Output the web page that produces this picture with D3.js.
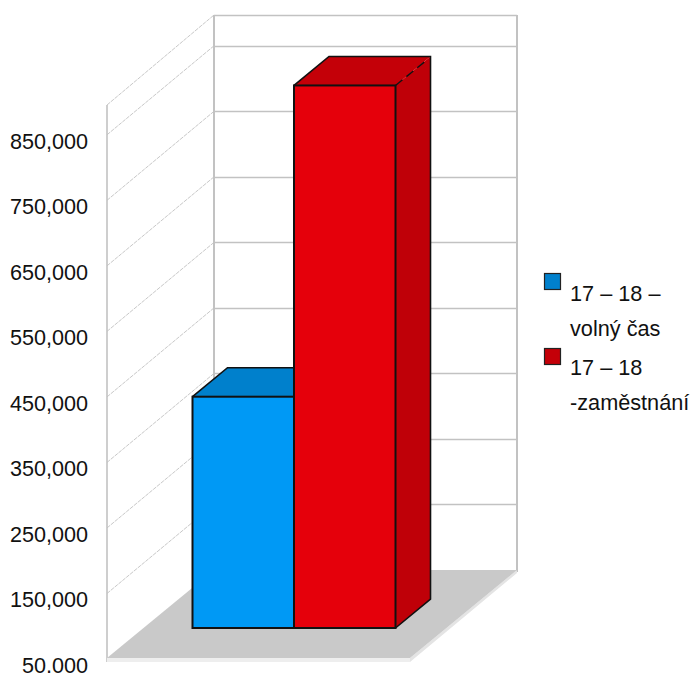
<!DOCTYPE html>
<html><head><meta charset="utf-8">
<script src="https://cdn.jsdelivr.net/npm/d3@7"></script>
<style>html,body{margin:0;padding:0;background:#fff}svg{display:block}text{font-family:"Liberation Sans",Arial,sans-serif;fill:#111}</style>
</head><body><div id="c"></div>
<script>
const categories = ["17 – 18 – volný čas", "17 – 18 -zaměstnání"];
const seriesValues = [403000, 878000];
const tickLabels = [50000,150000,250000,350000,450000,550000,650000,750000,850000];
const legendLines = [["17 – 18 –","volný čas"],["17 – 18","-zaměstnání"]];
const frontColors = ["#0099f5","#e5000b"];
const topColors = ["#0080cc","#c40008"];
const sideColors = ["#006fb0","#bf0008"];
const axisMax = 897000, axisMin = 50000;

const W=691,H=673;
const dx=107,dy=88, left=107, right=410;
const svg=d3.select("#c").append("svg").attr("width",W).attr("height",H);
const y=d3.scaleLinear().domain([axisMin,axisMax]).range([658,103]);
const barDx=35,barDy=29,barInsetY=30;
const x=d3.scaleBand().domain(categories).range([192.5,395.5]).paddingInner(0).paddingOuter(0);

// walls
const wall="#c2c2c2";
const g=svg.append("g");
const gridVals=[...tickLabels.slice(1),axisMax];
g.selectAll(".bk").data(gridVals).join("line")
  .attr("x1",left+dx).attr("x2",right+dx)
  .attr("y1",d=>Math.round(y(d)-dy)+.5).attr("y2",d=>Math.round(y(d)-dy)+.5)
  .attr("stroke",wall).attr("stroke-width",1.4);
g.selectAll(".dg").data(gridVals).join("line")
  .attr("x1",left).attr("x2",left+dx)
  .attr("y1",d=>d===axisMax?105:y(d)+1).attr("y2",d=>y(d)-dy)
  .attr("stroke","#c8c8c8").attr("stroke-width",1).attr("stroke-dasharray","4 1");
g.append("line").attr("x1",left+dx).attr("x2",left+dx).attr("y1",y(axisMax)-dy).attr("y2",y(axisMin)-dy).attr("stroke",wall).attr("stroke-width",2);
g.append("line").attr("x1",right+dx).attr("x2",right+dx).attr("y1",y(axisMax)-dy).attr("y2",y(axisMin)-dy+2).attr("stroke",wall).attr("stroke-width",2);
g.append("line").attr("x1",left).attr("x2",left).attr("y1",105).attr("y2",y(axisMin)+4).attr("stroke",wall).attr("stroke-width",1.6);

// floor
const b=y(axisMin);
g.append("path").attr("d",d3.line()([[left,b+4],[right,b+4],[right+dx,b-dy+3],[right+dx,b-dy],[right,b]])+"Z").attr("fill","#e4e4e4");
g.append("path").attr("d",d3.line()([[left,b],[left+dx,b-dy],[right+dx,b-dy],[right,b]])+"Z").attr("fill","#c9c9c9");
g.append("rect").attr("x",left).attr("y",b).attr("width",right-left).attr("height",4).attr("fill","#eeeeee");

// bars
const bars=svg.append("g").attr("stroke","#111").attr("stroke-linejoin","miter");
categories.forEach((c,i)=>{
  const x0=x(c),x1=x0+x.bandwidth(),yt=y(seriesValues[i])-barInsetY,yb=b-barInsetY;
  const bg=bars.append("g");
  bg.append("path").attr("d",d3.line()([[x1,yt],[x1+barDx,yt-barDy],[x1+barDx,yb-barDy],[x1,yb]])+"Z").attr("fill",sideColors[i]).attr("stroke","none");
  bg.append("path").attr("d",d3.line()([[x0,yt],[x0+barDx,yt-barDy],[x1+barDx,yt-barDy],[x1,yt]])+"Z").attr("fill",topColors[i]).attr("stroke","none");
  bg.append("path").attr("d",d3.line()([[x0,yt],[x0+barDx,yt-barDy],[x1+barDx,yt-barDy],[x1+barDx,yb-barDy],[x1,yb]])).attr("fill","none").attr("stroke-width",1.6);
  bg.append("line").attr("x1",x1).attr("y1",yt).attr("x2",x1+barDx-3).attr("y2",yt-barDy+3).attr("stroke-dasharray","9 5").attr("stroke-width",1.4);
  bg.append("rect").attr("x",x0).attr("y",yt).attr("width",x.bandwidth()).attr("height",yb-yt).attr("fill",frontColors[i]).attr("stroke-width",2);
});

// axis labels
const axis=d3.axisLeft(y).tickValues(tickLabels).tickFormat(d3.format(",")).tickSize(0).tickPadding(0);
const ag=svg.append("g").attr("transform","translate(88,6.5)").call(axis);
ag.select(".domain").remove();
ag.selectAll("text").attr("font-size",21.6).attr("dy","0.36em").style("font-family",'"Liberation Sans",Arial,sans-serif').attr("fill","#111");

// legend
const legY=[273,348];
const legOff=[28,27];
legendLines.forEach((ls,i)=>{
  svg.append("rect").attr("x",544.5).attr("y",legY[i]+.5).attr("width",16).attr("height",16).attr("fill",topColors[i]).attr("stroke","#222").attr("stroke-width",1.2);
  ls.forEach((t,j)=>svg.append("text").attr("x",570).attr("y",legY[i]+legOff[i]+j*35).attr("font-size",21.7).text(t));
});
</script></body></html>
